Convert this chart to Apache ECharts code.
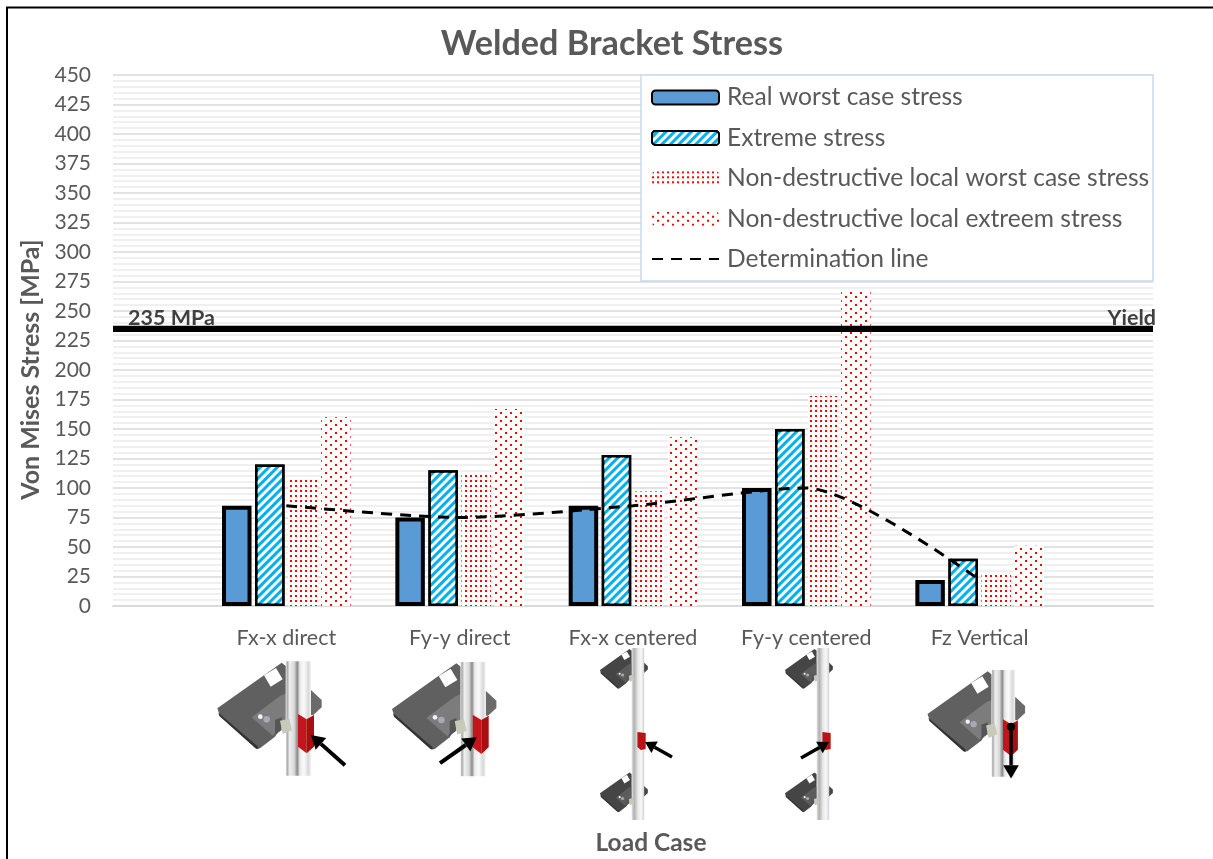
<!DOCTYPE html>
<html><head><meta charset="utf-8">
<style>html,body{margin:0;padding:0;background:#fff}#c{width:1213px;height:859px}</style>
<script src="https://cdn.jsdelivr.net/npm/echarts@6/dist/echarts.min.js"></script>
</head><body><div id="c"></div>
<script>
const categories = ['', 'Fx-x direct', 'Fy-y direct', 'Fx-x centered', 'Fy-y centered', 'Fz Vertical', ''];
const realWorst = [null, 85, 75, 85, 100, 22, null];
const extreme = [null, 120, 115, 128, 150, 40, null];
const localWorst = [null, 107, 113, 97, 178, 28, null];
const localExtreme = [null, 160, 167, 143, 266, 51, null];
const determination = [null, 85, 75, 85, 100, 22, null];
const yieldStress = 235;
const FONT = 'Lato, "Noto Sans", sans-serif';
const GREY = '#595959';

function poly(points, fill, z) { return {type:'polygon', shape:{points}, style:{fill}, z: z||10}; }
function columnGrad() {
  return new echarts.graphic.LinearGradient(0,0,1,0,[
    {offset:0,color:'#f2f2f2'},{offset:.06,color:'#a8a8a8'},{offset:.16,color:'#efefef'},
    {offset:.34,color:'#d8d8d8'},{offset:.46,color:'#8a8a8a'},{offset:.56,color:'#e8e8e8'},
    {offset:.72,color:'#fbfbfb'},{offset:.9,color:'#d8d8d8'},{offset:1,color:'#f5f5f5'}]);
}
function bracket(plate, inner) {
  return [
    poly([[333,150],[365,180],[365,202],[340,225],[333,225]], plate || '#6a6a6a'),
    poly([[52,205],[245,68],[260,80],[260,235],[225,290],[180,325],[170,326],[60,228]], plate || '#606060'),
    poly([[55,218],[172,318],[176,326],[168,326],[58,228]], '#333333'),
    poly([[155,232],[240,168],[260,160],[260,240],[218,287]], inner || '#7c7c7c'),
    poly([[192,106],[228,84],[248,118],[212,140]], '#ffffff'),
    {type:'circle', shape:{cx:181,cy:230,r:7}, style:{fill:'#f4f4f4'}, z:10},
    {type:'circle', shape:{cx:200,cy:238,r:10}, style:{fill:'#a8a8b8'}, z:10},
    poly([[225,240],[245,232],[245,270],[225,285]], '#555555'),
  ];
}
function column(y0, y1, w) {
  return {type:'rect', shape:{x:257,y:y0,width:w||76,height:y1-y0}, style:{fill:columnGrad()}, z:11};
}
function clip() {
  return poly([[240,242],[268,236],[276,270],[248,282]], '#c9c9ba', 12);
}
function red() {
  return [
    poly([[294,222],[320,238],[320,340],[294,320]], '#c4161a', 13),
    poly([[320,238],[342,225],[342,320],[320,340]], '#a90f10', 13),
  ];
}
function arrow(x0,y0,x1,y1,w,h) {
  const a=Math.atan2(y1-y0,x1-x0), ca=Math.cos(a), sa=Math.sin(a);
  const bx=x1-ca*h, by=y1-sa*h;
  return [
    {type:'line', shape:{x1:x0,y1:y0,x2:bx,y2:by}, style:{stroke:'#000',lineWidth:w}, z:14},
    poly([[x1,y1],[bx-sa*h*.6,by+ca*h*.6],[bx+sa*h*.6,by-ca*h*.6]], '#000', 14),
  ];
}
function unit(x, y, s, extra) {
  return {type:'group', x, y, scaleX:s, scaleY:s, z:10, children:[...bracket(), column(64,407), clip(), ...red(), ...(extra||[])]};
}
function smallUnit(x, y, s) {
  return {type:'group', x, y, scaleX:s, scaleY:s, z:10, children:[...bracket('#454545','#5c5c5c'), clip()]};
}
function tallColumn(x, arrowSpec) {
  const top = 648, bottom = 820;
  const kids = [
    smallUnit(x-39.7, 638.6, .153),
    smallUnit(x-39.7, 762, .153),
    {type:'rect', shape:{x:x,y:top,width:12.5,height:bottom-top}, style:{fill:new echarts.graphic.LinearGradient(0,0,1,0,[
      {offset:0,color:'#e2e2e2'},{offset:.2,color:'#b0b0b0'},{offset:.5,color:'#e8e8e8'},{offset:.75,color:'#f8f8f8'},{offset:1,color:'#d2d2d2'}])}, z:11},
    poly([[x+5.7,732],[x+14,733],[x+14,749],[x+9,750],[x+5.7,747]], '#b81416', 13),
    ...arrow(...arrowSpec, 3.4, 11),
  ];
  return {type:'group', z:10, children:kids};
}
const graphics = [
  {type:'polyline', shape:{points:[[7,859],[7,7.5],[1213,7.5]]}, style:{stroke:'#000',lineWidth:2,fill:null}, z:1},
  {type:'rect', shape:{x:641,y:75,width:512,height:206}, style:{fill:'#fff',stroke:'#c9dcee',lineWidth:1.5}, z:4},
  unit(200, 640, 1/3, arrow(435,376,333,285,12,40)),
  unit(374.7, 640.7, 1/3, arrow(196,367,306,290,12,40)),
  tallColumn(631.7, [672,757,645,742]),
  tallColumn(816.7, [801,758,829,742]),
  unit(911.3, 650, .3117, [
    {type:'circle', shape:{cx:320,cy:246,r:13}, style:{fill:'#000'}, z:15},
    ...arrow(320,246,320,412,11,42),
  ]),
];

const chart = echarts.init(document.getElementById('c'), null, {renderer:'canvas'});
const barBase = {type:'bar', barWidth:29.5, barGap:'12%', z:3};
chart.setOption({
  animation:false,
  backgroundColor:'#fff',
  title:{text:'Welded Bracket Stress', left:607, top:22, textAlign:'center',
    textStyle:{fontFamily:FONT,fontWeight:'bold',fontSize:34.2,color:GREY}},
  grid:{left:113, top:75, width:1040, height:531, containLabel:false, outerBoundsMode:'none'},
  legend:{orient:'vertical', left:651, top:85, align:'left', z:6,
    padding:0, itemWidth:67, itemHeight:14, itemGap:15.4,
    textStyle:{fontFamily:FONT,fontSize:24.6,color:GREY,lineHeight:20,padding:[0,0,0,3]},
    data:['Real worst case stress','Extreme stress','Non-destructive local worst case stress','Non-destructive local extreem stress',
      {name:'Determination line', itemStyle:{opacity:0}}]},
  xAxis:{type:'category', data:categories, boundaryGap:false,
    name:'Load Case', nameLocation:'middle', nameGap:225,
    nameTextStyle:{fontFamily:FONT,fontWeight:'bold',fontSize:24.5,color:GREY,padding:[0,0,0,36]},
    axisLine:{lineStyle:{color:'#d9d9d9',width:2}}, axisTick:{show:false},
    axisLabel:{fontFamily:FONT,fontSize:21.5,color:GREY,margin:21,interval:0},
    splitLine:{show:false}},
  yAxis:{type:'value', min:0, max:450, interval:25,
    name:'Von Mises Stress [MPa]', nameLocation:'middle', nameGap:57, nameRotate:90,
    nameTextStyle:{fontFamily:FONT,fontWeight:'bold',fontSize:25,color:GREY,padding:[0,58,0,0]},
    axisLine:{show:false}, axisTick:{show:false},
    axisLabel:{fontFamily:FONT,fontSize:21,color:GREY,margin:22},
    splitLine:{lineStyle:{color:'#d9d9d9',width:1.5}},
    minorTick:{show:false,splitNumber:5},
    minorSplitLine:{show:true,lineStyle:{color:'#f0f0f0',width:2}}},
  series:[
    {...barBase, name:'Real worst case stress', data:realWorst,
      itemStyle:{color:'#5b9bd5',borderColor:'#000',borderWidth:4}},
    {...barBase, name:'Extreme stress', data:extreme,
      itemStyle:{color:'#00b0f0',borderColor:'#000',borderWidth:2.5,
        decal:{symbol:'rect',color:'#ffffff',backgroundColor:null,dashArrayX:[1,0],dashArrayY:[3,3],rotation:-Math.PI/4}}},
    {...barBase, name:'Non-destructive local worst case stress', data:localWorst,
      itemStyle:{color:'#ffffff',
        decal:{symbol:'rect',color:'#ff0000',symbolSize:1,dashArrayX:[[2,3]],dashArrayY:[2,3],rotation:0}}},
    {...barBase, name:'Non-destructive local extreem stress', data:localExtreme,
      itemStyle:{color:'#ffffff',
        decal:{symbol:'rect',color:'#ff0000',symbolSize:1,dashArrayX:[[2,8],[0,5,2,3]],dashArrayY:[2,2],rotation:0}}},
    {type:'line', name:'Determination line', data:determination, connectNulls:true, smooth:.25,
      showSymbol:false, symbol:'none', z:6,
      lineStyle:{color:'#000',width:3,type:[11,8]}, itemStyle:{color:'#000'}},
    {type:'line', name:'Yield', data:categories.map(()=>yieldStress), showSymbol:false, symbol:'none', z:5,
      lineStyle:{color:'#000',width:6}, silent:true,
      markLine:{symbol:'none',silent:true,animation:false,lineStyle:{color:'#000',width:6,type:'solid'},data:[
        {yAxis:yieldStress,label:{formatter:'235 MPa',position:'insideStartTop',distance:[15,0],fontFamily:FONT,fontWeight:'bold',fontSize:21.5,color:'#404040'}},
        {yAxis:yieldStress,label:{formatter:'Yield',position:'insideEndTop',distance:[-3,0],fontFamily:FONT,fontWeight:'bold',fontSize:21.5,color:'#404040'}}
      ]}}
  ],
  graphic:graphics
});
</script></body></html>
